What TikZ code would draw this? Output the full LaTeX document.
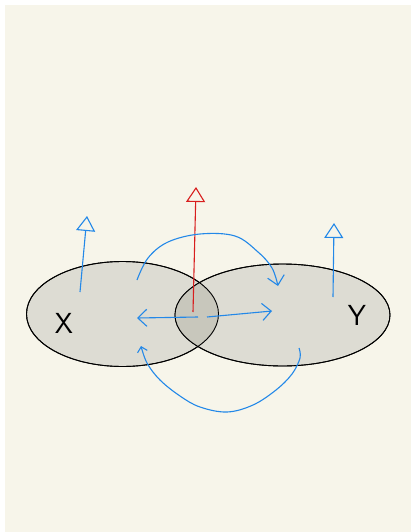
\documentclass[tikz,border=0pt]{standalone}
\usetikzlibrary{arrows.meta,shapes.geometric}
\definecolor{creme}{HTML}{F7F5EA}
\definecolor{disque}{HTML}{DDDCD3}
\definecolor{commun}{HTML}{C8C7BC}
\definecolor{bleu}{HTML}{2388E8}
\definecolor{rouge}{HTML}{D81E1E}
\tikzset{
  ens/.style={ellipse,draw=black,line width=0.9pt,inner sep=0pt},
  sortie/.style={line width=1.1pt,-{Triangle[open,length=15pt,width=19pt]}},
  fleche/.style={bleu,line width=1.1pt,-{Straight Barb[length=9pt,width=17pt]}},
  lettre/.style={font=\sffamily\fontsize{29}{29}\selectfont}
}
\begin{document}
\begin{tikzpicture}[x=1pt,y=-1pt]
		%fond
		\useasboundingbox (0,0) rectangle (411,532);
		\fill[white] (0,0) rectangle (411,532);
		\fill[creme] (5,5) rectangle (411,532);
		%ensembles
		\node[ens,fill=disque,minimum width=192pt,minimum height=105pt] (X) at (122.5,314) {};
		\node[ens,fill=disque,minimum width=215pt,minimum height=102pt] (Y) at (282.5,315) {};
		\begin{scope}
			\clip (122.5,314) ellipse [x radius=96,y radius=52.5];
			\fill[commun] (282.5,315) ellipse [x radius=107.5,y radius=51];
		\end{scope}
		\draw[line width=0.9pt] (122.5,314) ellipse [x radius=96,y radius=52.5];
		\draw[line width=0.9pt] (282.5,315) ellipse [x radius=107.5,y radius=51];
		\node[lettre] (lx) at (64,323) {X};
		\node[lettre] (ly) at (357,315) {Y};
		%points
		\coordinate (a1) at (80,292);
		\coordinate (a2) at (87,216);
		\coordinate (r1) at (193,312);
		\coordinate (r2) at (196,187);
		\coordinate (b1) at (333,297);
		\coordinate (b2) at (334,223);
		\coordinate (c0) at (198,317);
		\coordinate (cg) at (137,318);
		\coordinate (c1) at (207,317);
		\coordinate (cd) at (272,311);
		\coordinate (h1) at (137,280);
		\coordinate (h2) at (278,286);
		\coordinate (s1) at (299,348);
		\coordinate (s2) at (141,346);
		%sorties
		\draw[sortie,bleu] (a1) -- (a2);
		\draw[sortie,rouge] (r1) -- (r2);
		\draw[sortie,bleu] (b1) -- (b2);
		%fleches du centre
		\draw[fleche] (c0) -- (cg);
		\draw[fleche] (c1) -- (cd);
		%arcs
		\draw[fleche] plot[smooth,tension=0.6] coordinates {(h1) (148,258) (168,242) (200,234) (235,236) (258,252) (272,268) (h2)};
		\draw[fleche,-{Straight Barb[length=5pt,width=10pt]}] plot[smooth,tension=0.6] coordinates {(s1) (300,358) (292,374) (276,390) (253,405) (227,412) (200,407) (180,396) (160,380) (147,363) (s2)};
	\end{tikzpicture}
\end{document}
